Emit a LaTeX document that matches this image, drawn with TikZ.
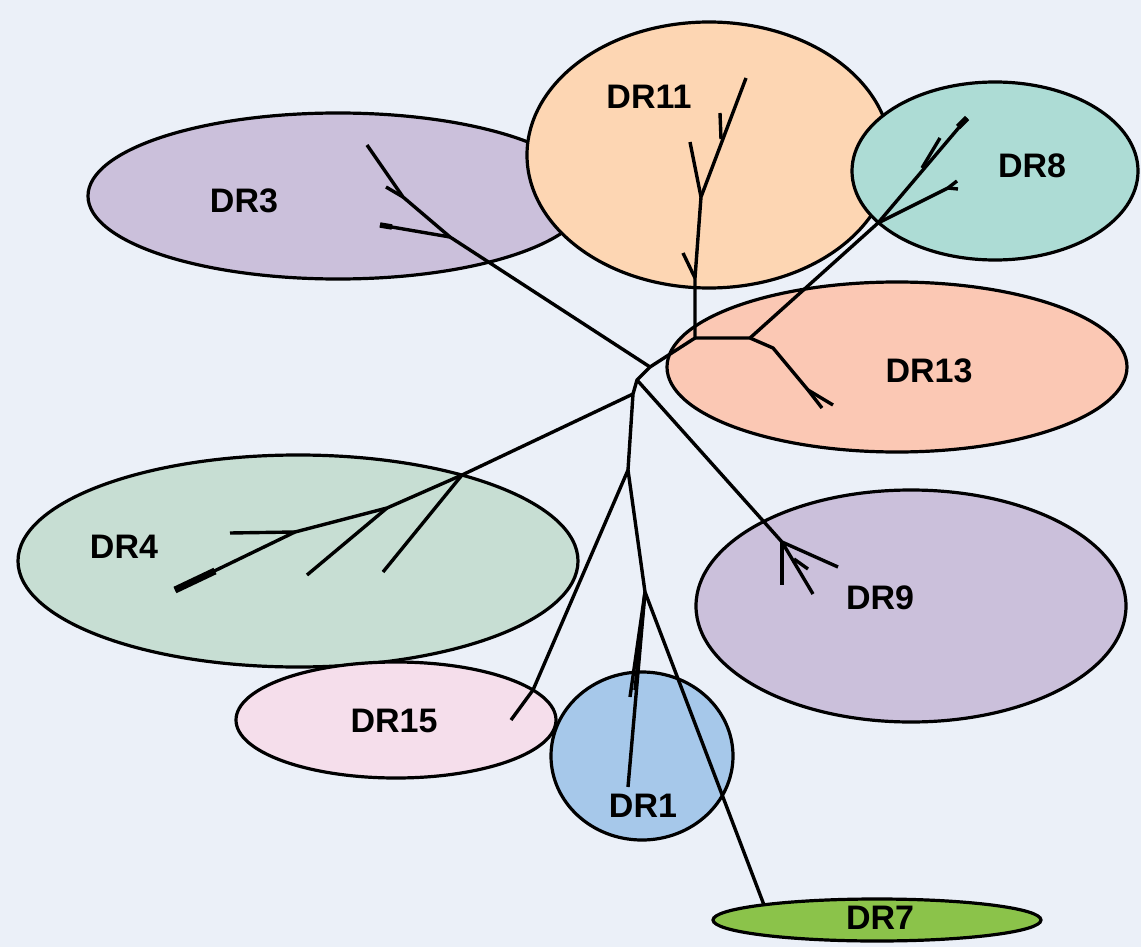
\documentclass[tikz,border=0pt]{standalone}
\usepackage{fontspec}
\setmainfont{Liberation Sans}
\usetikzlibrary{shapes.geometric}
\definecolor{bg}{HTML}{EBF0F8}
\definecolor{cDRiii}{HTML}{CBC0DB}
\definecolor{cDRxi}{HTML}{FDD6B3}
\definecolor{cDRviii}{HTML}{ADDCD5}
\definecolor{cDRxiii}{HTML}{FBC8B4}
\definecolor{cDRiv}{HTML}{C7DED3}
\definecolor{cDRix}{HTML}{CBC0DB}
\definecolor{cDRxv}{HTML}{F5DEEB}
\definecolor{cDRi}{HTML}{A6C8EA}
\definecolor{cDRvii}{HTML}{8BC34A}
\tikzset{
  blob/.style={ellipse, draw=black, line width=3.2pt, inner sep=0pt},
  lbl/.style={font=\bfseries\fontsize{34}{40}\selectfont, inner sep=0pt},
  br/.style={line width=3.4pt, line join=round},
}
\begin{document}
\begin{tikzpicture}[x=1pt,y=-1pt]
\useasboundingbox (0,0) rectangle (1141,947);
\fill[bg] (0,0) rectangle (1141,947);
% regions
\node[blob, fill=cDRiii, minimum width=500pt, minimum height=166pt] (e3) at (338,196) {};
\node[blob, fill=cDRxi, minimum width=364pt, minimum height=266pt] (e11) at (709,155) {};
\node[blob, fill=cDRviii, minimum width=286pt, minimum height=178pt] (e8) at (995,171) {};
\node[blob, fill=cDRxiii, minimum width=460pt, minimum height=170pt] (e13) at (897,367) {};
\node[blob, fill=cDRiv, minimum width=560pt, minimum height=212pt] (e4) at (298,561) {};
\node[blob, fill=cDRxv, minimum width=320pt, minimum height=116pt] (e15) at (396,720) {};
\node[blob, fill=cDRi, minimum width=182pt, minimum height=168pt] (e1) at (642,756) {};
\node[blob, fill=cDRix, minimum width=430pt, minimum height=232pt] (e9) at (911,606) {};
\node[blob, fill=cDRvii, minimum width=328pt, minimum height=42pt] (e7) at (877,920) {};
% tree junctions
\coordinate (k0) at (650,367);
\coordinate (k1) at (695,338);
\coordinate (k2) at (637,380);
\coordinate (k3) at (633,394);
\coordinate (k4) at (628,470);
% DR3
\coordinate (a1) at (450,237);
\coordinate (a2) at (403,197);
\coordinate (a3) at (367,145);
\coordinate (a4) at (386,187);
\coordinate (a5) at (380,225);
\coordinate (a6) at (392,227);
% DR11
\coordinate (b1) at (695,278);
\coordinate (b2) at (683,253);
\coordinate (b3) at (701,197);
\coordinate (b4) at (690,142);
\coordinate (b5) at (746,78);
\coordinate (b6) at (721,139);
\coordinate (b7) at (720,113);
% DR13 / DR8
\coordinate (d1) at (750,338);
\coordinate (d2) at (878,223);
\coordinate (d3) at (967,118);
\coordinate (d3b) at (958,127);
\coordinate (d4) at (922,168);
\coordinate (d5) at (940,138);
\coordinate (d6) at (948,188);
\coordinate (d7) at (957,181);
\coordinate (d8) at (958,189);
\coordinate (d9) at (773,348);
\coordinate (d10) at (808,390);
\coordinate (d11) at (822,408);
\coordinate (d12) at (833,405);
% DR4
\coordinate (f1) at (462,475);
\coordinate (f2) at (383,572);
\coordinate (f3) at (387,508);
\coordinate (f4) at (307,575);
\coordinate (f5) at (295,532);
\coordinate (f6) at (230,533);
\coordinate (f7) at (175,590);
\coordinate (f8) at (215,571);
% DR9
\coordinate (g1) at (782,542);
\coordinate (g2) at (838,567);
\coordinate (g3) at (782,585);
\coordinate (g4) at (813,594);
\coordinate (g5) at (794,559);
\coordinate (g6) at (808,569);
% DR15, DR1, DR7
\coordinate (h1) at (533,690);
\coordinate (h2) at (511,720);
\coordinate (i1) at (645,592);
\coordinate (i2) at (630,697);
\coordinate (i3) at (628,787);
\coordinate (i4) at (635,690);
\coordinate (j1) at (764,905);
% branches
\draw[br] (a3) -- (a2) -- (a1) -- (k0);
\draw[br] (a2) -- (a4);
\draw[br] (a1) -- (a5);
\draw[line width=5.5pt] (a6) -- (a5);
\draw[br] (k0) -- (k1) -- (b1) -- (b3) -- (b5);
\draw[br] (b1) -- (b2);
\draw[br] (b3) -- (b4);
\draw[br] (b6) -- (b7);
\draw[br] (k1) -- (d1) -- (d2) -- (d3);
\draw[line width=6pt] (d3b) -- (d3);
\draw[br] (d4) -- (d5);
\draw[br] (d2) -- (d6) -- (d7);
\draw[br] (d6) -- (d8);
\draw[br] (d1) -- (d9) -- (d10) -- (d11);
\draw[br] (d10) -- (d12);
\draw[br] (k0) -- (k2) -- (k3) -- (k4);
\draw[br] (k3) -- (f1) -- (f3) -- (f5) -- (f7);
\draw[line width=7pt] (f8) -- (f7);
\draw[br] (f1) -- (f2);
\draw[br] (f3) -- (f4);
\draw[br] (f5) -- (f6);
\draw[br] (k2) -- (g1) -- (g2);
\draw[br] (g1) -- (g3);
\draw[br] (g1) -- (g4);
\draw[br] (g5) -- (g6);
\draw[br] (k4) -- (h1) -- (h2);
\draw[br] (k4) -- (i1) -- (i3);
\draw[br] (i1) -- (i2);
\draw[br] (i1) -- (i4);
\draw[br] (i1) -- (j1);
% labels
\node[lbl] (l3) at (244,201) {DR3};
\node[lbl] (l11) at (649,97) {DR11};
\node[lbl] (l8) at (1032,166) {DR8};
\node[lbl] (l13) at (929,371) {DR13};
\node[lbl] (l4) at (124,547) {DR4};
\node[lbl] (l9) at (880,598) {DR9};
\node[lbl] (l15) at (394,721) {DR15};
\node[lbl] (l1) at (643,806) {DR1};
\node[lbl] (l7) at (880,918) {DR7};
\end{tikzpicture}
\end{document}
